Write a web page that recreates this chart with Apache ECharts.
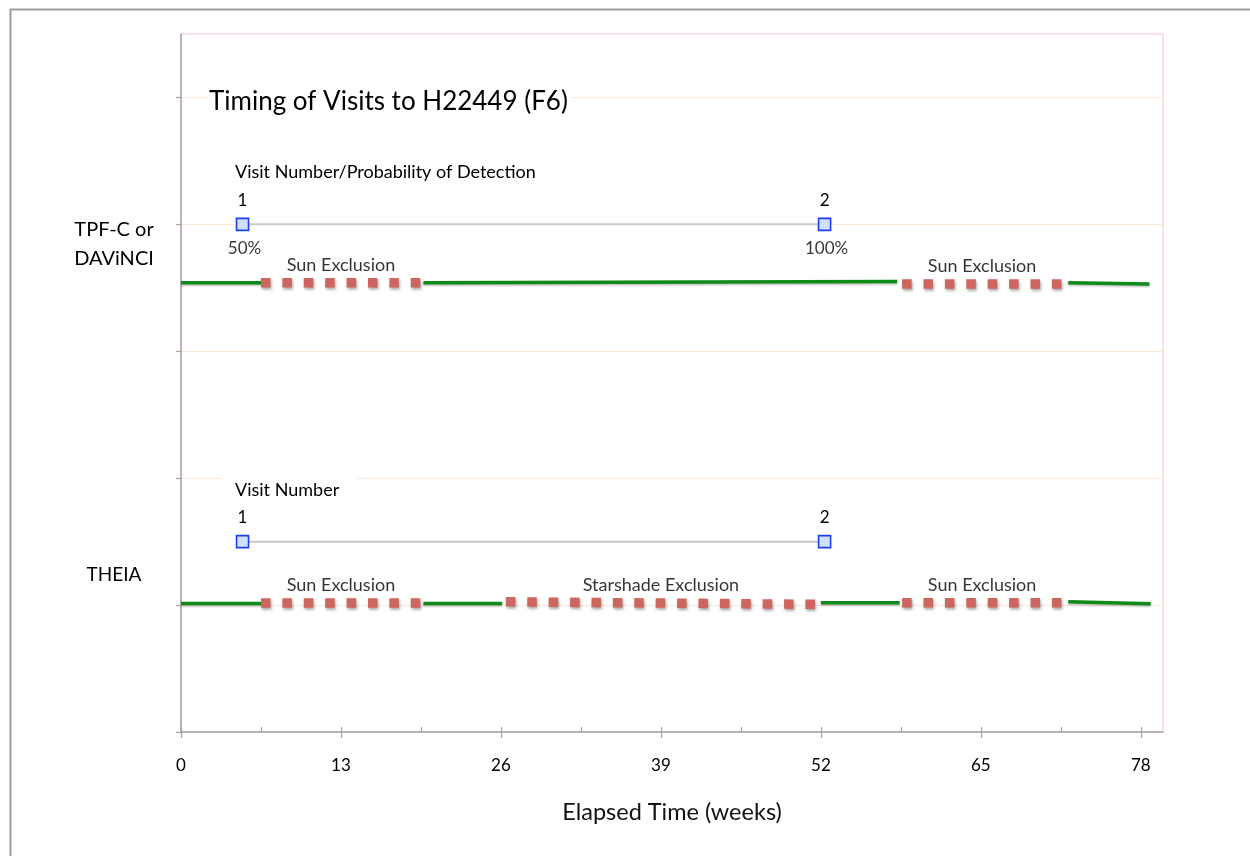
<!DOCTYPE html>
<html><head><meta charset="utf-8">
<script src="https://cdn.jsdelivr.net/npm/echarts@6/dist/echarts.min.js"></script>
<style>html,body{margin:0;padding:0;background:#fff}#c{width:1250px;height:856px}</style>
</head><body><div id="c"></div>
<script>
// ---- data ----
const xTicks = [0, 13, 26, 39, 52, 65, 78];
const xMinorTicks = [0, 6.5, 13, 19.5, 26, 32.5, 39, 45.5, 52, 58.5, 65, 71.5, 78];
const yTicks = [0, 1, 2, 3, 4, 5];

// TPF-C or DAViNCI row
const tpfAvailable1 = [[0, 3.54], [6.5, 3.54]];
const tpfSun1 = [[6.5, 3.54], [19.5, 3.54]];
const tpfAvailable2 = [[19.7, 3.54], [58.2, 3.55]];
const tpfSun2 = [[58.6, 3.53], [71.6, 3.53]];
const tpfAvailable3 = [[72.1, 3.54], [78.7, 3.53]];
const tpfVisits = [[5, 4], [52.3, 4]];
const tpfVisitNumbers = ['1', '2'];
const tpfDetectProb = ['50%', '100%'];

// THEIA row
const theiaAvailable1 = [[0, 1.013], [6.5, 1.013]];
const theiaSun1 = [[6.5, 1.016], [19.5, 1.016]];
const theiaAvailable2 = [[19.7, 1.013], [26.1, 1.013]];
const theiaStarshade = [[26.4, 1.026], [51.6, 1.006]];
const theiaAvailable3 = [[52.0, 1.018], [58.4, 1.018]];
const theiaSun2 = [[58.6, 1.018], [71.6, 1.018]];
const theiaAvailable4 = [[72.1, 1.026], [78.8, 1.01]];
const theiaVisits = [[5, 1.5], [52.3, 1.5]];
const theiaVisitNumbers = ['1', '2'];

// exclusion captions (x = centre week, y = row level)
const exclusionNotes = [
  {name: 'Sun Exclusion', value: [13, 3.54]},
  {name: 'Sun Exclusion', value: [65.1, 3.53]},
  {name: 'Sun Exclusion', value: [13, 1.016]},
  {name: 'Starshade Exclusion', value: [39, 1.016]},
  {name: 'Sun Exclusion', value: [65.1, 1.018]}
];

// ---- styles ----
const FONT = 'Lato';
const GREEN = '#0d8a17';
const RED = '#cd665e';
const chart = echarts.init(document.getElementById('c'), null, {renderer: 'canvas'});

function avail(data) {
  return {type: 'line', data, symbol: 'none', silent: true, z: 3,
    lineStyle: {color: GREEN, width: 3.5, cap: 'butt',
      shadowColor: 'rgba(0,0,0,0.25)', shadowBlur: 2, shadowOffsetY: 1.5}};
}
function excl(data) {
  return {type: 'line', data, symbol: 'none', silent: true, z: 4,
    lineStyle: {color: RED, width: 9.5, type: [9.5, 11.9], cap: 'butt',
      shadowColor: 'rgba(0,0,0,0.35)', shadowBlur: 3, shadowOffsetX: 1, shadowOffsetY: 2}};
}
function visits(data, nums) {
  return {type: 'line', data, symbol: 'rect', symbolSize: 12, silent: true, z: 5,
    lineStyle: {color: '#c8c8c8', width: 2},
    itemStyle: {color: '#cfe0fb', borderColor: '#1e3ff0', borderWidth: 1.6},
    label: {show: true, position: 'inside', offset: [0, -24], color: '#000',
      fontFamily: FONT, fontSize: 17, formatter: p => nums[p.dataIndex]}};
}
function probLabels(data, probs) {
  return {type: 'scatter', data, symbolSize: 0, silent: true, z: 6,
    label: {show: true, position: 'inside', offset: [2, 24], color: '#000',
      fontFamily: FONT, fontSize: 17, formatter: p => probs[p.dataIndex]}};
}

const option = {
  animation: false,
  backgroundColor: '#fff',
  textStyle: {fontFamily: FONT},
  grid: {left: 181, top: 34, right: 87, bottom: 124, show: true,
    borderColor: '#fdd6de', borderWidth: 1.5, backgroundColor: 'transparent'},
  xAxis: [{
    type: 'value', min: 0, max: 79.8, interval: 13,
    name: 'Elapsed Time (weeks)', nameLocation: 'middle', nameGap: 68,
    nameTextStyle: {fontFamily: FONT, fontSize: 23.5, color: '#111'},
    axisLine: {show: true, onZero: false, lineStyle: {color: '#a3a3a3', width: 1.5}},
    axisTick: {show: true, length: 6, customValues: xTicks, lineStyle: {color: '#a3a3a3', width: 1.2}},
    axisLabel: {show: true, margin: 25, fontSize: 17, color: '#000', fontFamily: FONT, customValues: xTicks},
    splitLine: {show: false}
  }, {
    type: 'value', min: 0, max: 79.8, interval: 6.5, position: 'bottom',
    axisLine: {show: false},
    axisTick: {show: true, inside: true, length: 5, customValues: xMinorTicks, lineStyle: {color: '#a3a3a3', width: 1.2}},
    axisLabel: {show: false}, splitLine: {show: false}
  }],
  yAxis: {
    type: 'value', min: 0, max: 5.5, interval: 1,
    axisLine: {show: true, onZero: false, lineStyle: {color: '#a89fa8', width: 1.5}},
    axisTick: {show: true, length: 5, customValues: yTicks, lineStyle: {color: '#a3a3a3', width: 1.2}},
    axisLabel: {show: false},
    splitLine: {show: true, lineStyle: {color: '#fbe6d8', width: 1.2}}
  },
  series: [
    avail(tpfAvailable1), excl(tpfSun1), avail(tpfAvailable2), excl(tpfSun2), avail(tpfAvailable3),
    visits(tpfVisits, tpfVisitNumbers), probLabels(tpfVisits, tpfDetectProb),
    avail(theiaAvailable1), excl(theiaSun1), avail(theiaAvailable2), excl(theiaStarshade),
    avail(theiaAvailable3), excl(theiaSun2), avail(theiaAvailable4),
    visits(theiaVisits, theiaVisitNumbers),
    {type: 'scatter', data: exclusionNotes, symbolSize: 0, silent: true, z: 6,
      label: {show: true, position: 'inside', offset: [0, -18], color: '#000',
        fontFamily: FONT, fontSize: 18, formatter: p => p.name}}
  ],
  graphic: [
    {type: 'rect', left: 8, top: 7, silent: true, z: 100,
      shape: {width: 1300, height: 900}, style: {fill: 'none', stroke: '#9b9b9b', lineWidth: 2}},
    {type: 'text', x: 209, y: 102, z: 50,
      style: {text: 'Timing of Visits to H22449 (F6)', fontFamily: FONT, fontSize: 26, fill: '#000',
        verticalAlign: 'middle', backgroundColor: '#fff', padding: [2, 4, 2, 0]}},
    {type: 'text', x: 235, y: 172, z: 50,
      style: {text: 'Visit Number/Probability of Detection', fontFamily: FONT, fontSize: 18, fill: '#000',
        verticalAlign: 'middle'}},
    {type: 'text', x: 221, y: 490, z: 50,
      style: {text: 'Visit Number', fontFamily: FONT, fontSize: 18, fill: '#000',
        verticalAlign: 'middle', backgroundColor: '#fff', padding: [12, 18, 8, 14]}},
    {type: 'text', x: 114, y: 244, z: 50,
      style: {text: 'TPF-C or\nDAViNCI', fontFamily: FONT, fontSize: 20, lineHeight: 29, fill: '#000',
        align: 'center', verticalAlign: 'middle'}},
    {type: 'text', x: 114, y: 575, z: 50,
      style: {text: 'THEIA', fontFamily: FONT, fontSize: 19, fill: '#000',
        align: 'center', verticalAlign: 'middle'}}
  ]
};
chart.setOption(option);
</script></body></html>
